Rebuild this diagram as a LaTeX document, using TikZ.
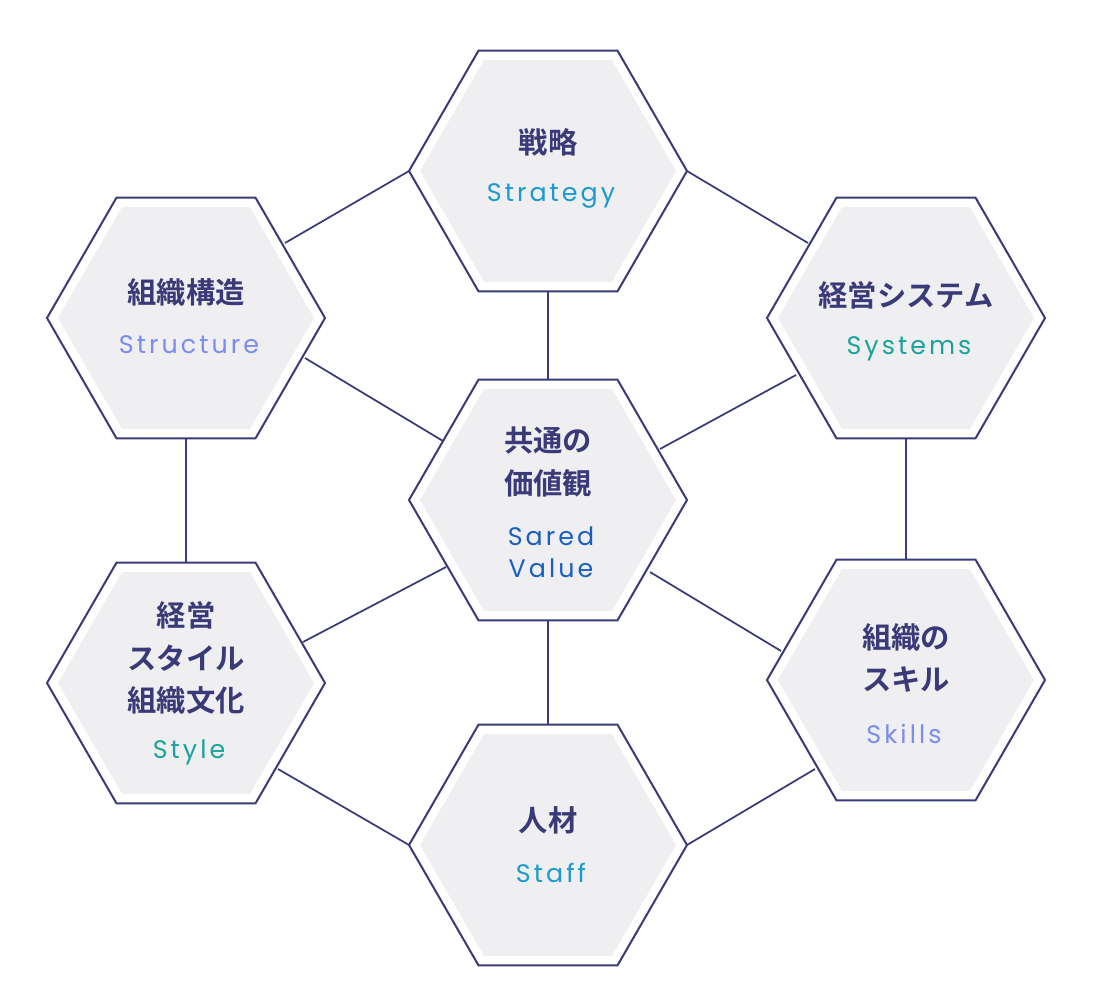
\documentclass[tikz,border=0pt]{standalone}
\usepackage{fontspec}
\usetikzlibrary{calc}
\newfontfamily\jp{Noto Sans CJK JP}[BoldFont={* Bold}]
\newfontfamily\en{Poppins}[LetterSpace=12]
\definecolor{navy}{HTML}{3A3A78}
\definecolor{cyanb}{HTML}{1A9AD0}
\definecolor{peri}{HTML}{7B8CF0}
\definecolor{teal}{HTML}{1AA39A}
\definecolor{blueb}{HTML}{1A5FC0}
\definecolor{hexgray}{HTML}{EFEFF1}
\begin{document}
\begin{tikzpicture}[x=0.75pt,y=-0.75pt,
  link/.style={navy,line width=1.3pt},
  jptext/.style={font=\jp\bfseries\fontsize{22}{32}\selectfont,text=navy,align=center,inner sep=0},
  entext/.style={font=\en\fontsize{19}{24}\selectfont,align=center,inner sep=0}]
\useasboundingbox[fill=white] (0,0) rectangle (1094,1006);
\coordinate (strat) at (548,171);
\coordinate (struc) at (186,318);
\coordinate (syst) at (906,318);
\coordinate (core) at (548,500);
\coordinate (styl) at (186,683);
\coordinate (skil) at (906,680);
\coordinate (staf) at (548,845);
% connectors
\draw[link] ($(strat)+(-139,0)$) -- (285,243);
\draw[link] ($(strat)+(139,0)$) -- (808,243);
\draw[link] (strat) -- (core);
\draw[link] (305,358) -- (443,441);
\draw[link] (796,375) -- (660,449);
\draw[link] (struc) -- (styl);
\draw[link] (syst) -- (skil);
\draw[link] (446,567) -- (303,642);
\draw[link] (650,572) -- (781,651);
\draw[link] (core) -- (staf);
\draw[link] (278,769) -- ($(staf)+(-139,0)$);
\draw[link] ($(staf)+(139,0)$) -- (815,769);
% hexagons
\foreach \c in {strat,struc,syst,core,styl,skil,staf}{
  \begin{scope}[shift={(\c)}]
  \draw[navy,line width=1.5pt,fill=white] (0:139)--(60:139)--(120:139)--(180:139)--(240:139)--(300:139)--cycle;
  \fill[hexgray] (0:128)--(60:128)--(120:128)--(180:128)--(240:128)--(300:128)--cycle;
  \end{scope}
}
% texts
\node[jptext] (t1) at (548,142) {戦略};
\node[entext,text=cyanb] (e1) at (551,196) {Strategy};
\node[jptext] (t2) at (186,292) {組織構造};
\node[entext,text=peri] (e2) at (189,345) {Structure};
\node[jptext] (t3) at (906,295) {経営システム};
\node[entext,text=teal] (e3) at (909,349) {Systems};
\node[jptext] (t4) at (548,462) {共通の\\価値観};
\node[entext,text=blueb] (e4) at (551,552) {Sared\\Value};
\node[jptext] (t5) at (186,658) {経営\\スタイル\\組織文化};
\node[entext,text=teal] (e5) at (189,752) {Style};
\node[jptext] (t6) at (906,658) {組織の\\スキル};
\node[entext,text=peri] (e6) at (904,734) {Skills};
\node[jptext] (t7) at (548,820) {人材};
\node[entext,text=cyanb] (e7) at (551,873) {Staff};
\end{tikzpicture}
\end{document}
